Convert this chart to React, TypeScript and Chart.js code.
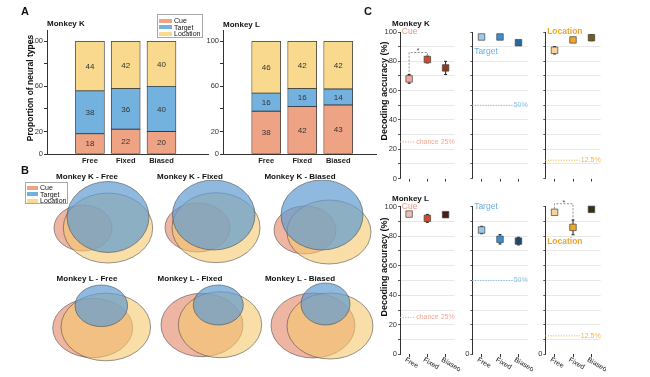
import React, { useEffect, useRef } from 'react';
import { Chart, registerables } from 'chart.js';

Chart.register(...registerables);
const FONT = "'Liberation Sans', Arial, Helvetica, sans-serif";
Chart.defaults.font.family = FONT;
Chart.defaults.color = '#222';

// ---------------- data ----------------
const conditions = ['Free', 'Fixed', 'Biased'];
const neuronTypes = ['Cue', 'Target', 'Location'];

// Panel A: proportion of neural types (%)
const propK_Cue = [18, 22, 20];
const propK_Target = [38, 36, 40];
const propK_Location = [44, 42, 40];
const propL_Cue = [38, 42, 43.4];
const propL_Target = [16, 16, 14.3];
const propL_Location = [46, 42, 42.3];
const propTicks = [0, 20, 40, 60, 80, 100];
const propTickLabels = [0, 20, 60, 100];

// Panel B: Venn ellipses [dx, dy, rx, ry] for Cue, Target, Location
const vennK_Free = [[-4, 51, 29, 23], [21, 40, 41, 35.5], [21, 51, 44.7, 35]];
const vennK_Fixed = [[7.5, 50.5, 32.5, 24.5], [23.7, 38, 41.3, 35], [26, 50.7, 44, 35]];
const vennK_Biased = [[5, 53, 31, 24], [22, 38, 41, 35], [29, 55, 42, 32]];
const vennL_Free = [[5.7, 49, 40, 29.7], [14.3, 26.8, 26.3, 20.8], [18.8, 48, 44.8, 33.8]];
const vennL_Fixed = [[12, 46, 41, 31.7], [28.3, 26, 25, 20], [30, 45.7, 41.7, 33]];
const vennL_Biased = [[13, 46.5, 42, 32.5], [25.5, 25, 24.5, 21], [30, 47, 43, 33]];

// Panel C: decoding accuracy (%) mean and error
const accK_Cue = [68.0, 81.2, 75.5];
const errK_Cue = [3, 2.3, 4.5];
const accK_Target = [96.6, 96.6, 92.7];
const errK_Target = [1, 1, 1.5];
const accK_Location = [87.5, 94.6, 96.1];
const errK_Location = [2.5, 1, 2];
const accL_Cue = [95.0, 92.1, 94.6];
const errL_Cue = [1, 2.7, 1];
const accL_Target = [84.2, 77.9, 76.7];
const errL_Target = [2.5, 3.2, 2.6];
const accL_Location = [96.2, 86.0, 98.2];
const errL_Location = [1, 5, 1];
const chanceLevels = [25, 50, 12.5];
const chanceLabels = ['chance 25%', '50%', '12.5%'];
const accTicks = [0, 10, 20, 30, 40, 50, 60, 70, 80, 90, 100];

// ---------------- styles ----------------
const barColors = ['#EFA385', '#73B2DE', '#F8D98E'];
const vennFill = ['rgba(228,135,105,0.62)', 'rgba(95,155,210,0.7)', 'rgba(245,200,110,0.6)'];
const typeTextColors = ['#E8967F', '#6AAEE0', '#EDA52E'];
const chanceColors = ['#F2A896', '#8CC2EA', '#F0B848'];
const markK = [
  ['#F0A898', '#D04A30', '#8E3A1E'],
  ['#9CCAEC', '#3A8ED0', '#25689C'],
  ['#F8D49A', '#EFA62A', '#6F5A20'],
];
const markL = [
  ['#EBC0B0', '#D04A30', '#4A1C12'],
  ['#98C8EC', '#3A8ED0', '#1E4A6E'],
  ['#F6D49C', '#EFA62A', '#3A2E12'],
];

// ---------------- plugins ----------------
const barValuePlugin = {
  id: 'barValues',
  afterDatasetsDraw(chart: any) {
    const { ctx } = chart;
    ctx.save();
    ctx.font = `8px ${FONT}`;
    ctx.fillStyle = '#333';
    ctx.textAlign = 'center';
    ctx.textBaseline = 'middle';
    chart.data.datasets.forEach((ds: any, di: number) => {
      chart.getDatasetMeta(di).data.forEach((el: any, i: number) => {
        ctx.fillText(String(Math.round(ds.data[i].y)), el.x, (el.y + el.base) / 2 + 0.5);
      });
    });
    ctx.restore();
  },
};

const ellipsePlugin = {
  id: 'ellipses',
  afterDatasetsDraw(chart: any) {
    const { ctx } = chart;
    const xs = chart.scales.x;
    const ys = chart.scales.y;
    ctx.save();
    chart.data.datasets.forEach((ds: any) => {
      ds.data.forEach((p: any) => {
        const cx = xs.getPixelForValue(p.x);
        const cy = ys.getPixelForValue(p.y);
        const rx = Math.abs(xs.getPixelForValue(p.x + p.rx) - cx);
        const ry = Math.abs(ys.getPixelForValue(p.y + p.ry) - cy);
        ctx.beginPath();
        ctx.ellipse(cx, cy, rx, ry, 0, 0, Math.PI * 2);
        ctx.fillStyle = ds.backgroundColor;
        ctx.fill();
        ctx.lineWidth = 0.7;
        ctx.strokeStyle = 'rgba(70,70,70,0.8)';
        ctx.stroke();
      });
    });
    ctx.restore();
  },
};

// ---------------- configs ----------------
function makeBarConfig(series: number[][], xMax: number, yWidth: number, padRight: number) {
  return {
    type: 'bar',
    data: {
      datasets: series.map((vals, k) => ({
        label: neuronTypes[k],
        data: conditions.map((_c, i) => ({ x: i + 1, y: vals[i] })),
        backgroundColor: barColors[k],
        borderColor: '#3a3a3a',
        borderWidth: 0.8,
        borderSkipped: false,
        barThickness: 29,
      })),
    },
    options: {
      responsive: false,
      animation: false,
      layout: { padding: { top: 30, right: padRight, left: 0, bottom: 0 } },
      plugins: { legend: { display: false }, tooltip: { enabled: false } },
      scales: {
        x: {
          type: 'linear',
          stacked: true,
          offset: false,
          min: -0.2,
          max: xMax,
          afterBuildTicks: (s: any) => {
            s.ticks = conditions.map((_c, i) => ({ value: i + 1 }));
          },
          afterFit: (s: any) => {
            s.height = 16;
          },
          ticks: {
            callback: (v: any) => conditions[Math.round(v) - 1],
            font: { size: 7.5, weight: 'bold' },
            padding: 2.5,
            color: '#222',
            autoSkip: false,
            maxRotation: 0,
          },
          grid: { offset: false, drawOnChartArea: false, drawTicks: false },
          border: { color: '#333', width: 1 },
        },
        y: {
          stacked: true,
          min: 0,
          max: 110,
          afterBuildTicks: (s: any) => {
            s.ticks = propTicks.map((v) => ({ value: v }));
          },
          afterFit: (s: any) => {
            s.width = yWidth;
          },
          ticks: {
            callback: (v: any) => (propTickLabels.includes(v) ? String(v) : ''),
            font: { size: 7.5 },
            padding: 1,
            color: '#333',
            autoSkip: false,
          },
          grid: { drawOnChartArea: false, tickLength: 3, tickColor: '#333' },
          border: { color: '#333', width: 1 },
        },
      },
    },
    plugins: [barValuePlugin],
  };
}

function makeVennConfig(sets: number[][]) {
  const order = [0, 2, 1]; // Cue, Location, Target (Target on top)
  return {
    type: 'scatter',
    data: {
      datasets: order.map((k) => {
        const [x, y, rx, ry] = sets[k];
        return { label: neuronTypes[k], data: [{ x, y, rx, ry }], pointRadius: 0, backgroundColor: vennFill[k] };
      }),
    },
    options: {
      responsive: false,
      animation: false,
      layout: { padding: 0 },
      plugins: { legend: { display: false }, tooltip: { enabled: false } },
      scales: {
        x: { type: 'linear', display: false, min: -50, max: 100 },
        y: { type: 'linear', display: false, min: 3, max: 93, reverse: true },
      },
    },
    plugins: [ellipsePlugin],
  };
}

const colYWidth = [35, 12.3, 12.3];
const colPadRight = [3, 3.7, 3.7];
const rowPadTop = [6, 12.7];
const rowXHeight = [5, 22.7];

function makeAccConfig(spec: any) {
  const { means, errs, colors, type, row, col, label, sig, labelBold } = spec;
  const decor = {
    id: 'accDecor',
    beforeDatasetsDraw(chart: any) {
      const { ctx, chartArea: ca } = chart;
      const xs = chart.scales.x;
      const ys = chart.scales.y;
      ctx.save();
      // chance line
      const cy = ys.getPixelForValue(chanceLevels[type]);
      ctx.font = `7px ${FONT}`;
      const txt = chanceLabels[type];
      const tw = ctx.measureText(txt).width;
      ctx.strokeStyle = chanceColors[type];
      ctx.lineWidth = 1;
      ctx.setLineDash([1.2, 1.4]);
      ctx.beginPath();
      ctx.moveTo(ca.left, cy);
      ctx.lineTo(ca.right - tw - 1, cy);
      ctx.stroke();
      ctx.setLineDash([]);
      ctx.fillStyle = chanceColors[type];
      ctx.textAlign = 'right';
      ctx.textBaseline = 'middle';
      ctx.fillText(txt, ca.right, cy);
      // significance bracket
      if (sig) {
        const xa = xs.getPixelForValue(sig.a);
        const xb = xs.getPixelForValue(sig.b);
        const yt = ys.getPixelForValue(sig.top);
        ctx.strokeStyle = '#777';
        ctx.lineWidth = 0.8;
        ctx.setLineDash([2, 1.5]);
        ctx.beginPath();
        ctx.moveTo(xa, ys.getPixelForValue(sig.legA));
        ctx.lineTo(xa, yt);
        ctx.lineTo(xb, yt);
        ctx.lineTo(xb, ys.getPixelForValue(sig.legB));
        ctx.stroke();
        ctx.setLineDash([]);
        ctx.fillStyle = '#444';
        ctx.textAlign = 'center';
        ctx.textBaseline = 'middle';
        ctx.font = `7px ${FONT}`;
        ctx.fillText('*', (xa + xb) / 2, yt - 1);
      }
      // error bars
      ctx.strokeStyle = '#222';
      ctx.lineWidth = 1;
      means.forEach((m: number, i: number) => {
        const x = xs.getPixelForValue(i + 1);
        const y1 = ys.getPixelForValue(m - errs[i]);
        const y2 = ys.getPixelForValue(m + errs[i]);
        ctx.beginPath();
        ctx.moveTo(x, y1);
        ctx.lineTo(x, y2);
        ctx.moveTo(x - 1.5, y1);
        ctx.lineTo(x + 1.5, y1);
        ctx.moveTo(x - 1.5, y2);
        ctx.lineTo(x + 1.5, y2);
        ctx.stroke();
      });
      ctx.restore();
    },
    afterDatasetsDraw(chart: any) {
      const { ctx, chartArea: ca } = chart;
      const xs = chart.scales.x;
      const ys = chart.scales.y;
      ctx.save();
      ctx.font = `${labelBold ? 'bold ' : ''}8.5px ${FONT}`;
      ctx.fillStyle = typeTextColors[type];
      ctx.textAlign = 'left';
      ctx.textBaseline = 'middle';
      ctx.fillText(neuronTypes[type], xs.getPixelForValue(label[0]), ys.getPixelForValue(label[1]));
      if (row === 1) {
        ctx.font = `7px ${FONT}`;
        ctx.fillStyle = '#222';
        ctx.textBaseline = 'top';
        conditions.forEach((c, i) => {
          ctx.save();
          ctx.translate(xs.getPixelForValue(i + 1) - 2, ca.bottom + 2);
          ctx.rotate(Math.PI / 6);
          ctx.fillText(c, 0, 0);
          ctx.restore();
        });
      }
      ctx.restore();
    },
  };
  const tickLabel = (v: number) => {
    if (col === 0) return v % 20 === 0 ? String(v) : '';
    if (row === 1) return v === 0 ? '0' : '';
    return '';
  };
  return {
    type: 'scatter',
    data: {
      datasets: [
        {
          label: neuronTypes[type],
          data: means.map((m: number, i: number) => ({ x: i + 1, y: m })),
          pointStyle: 'rect',
          pointRadius: 4.6,
          pointBackgroundColor: colors,
          pointBorderColor: '#444',
          pointBorderWidth: 0.7,
          clip: false,
        },
      ],
    },
    options: {
      responsive: false,
      animation: false,
      layout: { padding: { top: rowPadTop[row], right: colPadRight[col], left: 0, bottom: 0 } },
      plugins: { legend: { display: false }, tooltip: { enabled: false } },
      scales: {
        x: {
          type: 'linear',
          min: 0.5,
          max: 3.5,
          afterBuildTicks: (s: any) => {
            s.ticks = conditions.map((_c, i) => ({ value: i + 1 }));
          },
          afterFit: (s: any) => {
            s.height = rowXHeight[row];
          },
          ticks: { display: false },
          grid: { drawOnChartArea: false, tickLength: 3, tickColor: '#333' },
          border: { display: false },
        },
        y: {
          type: 'linear',
          min: 0,
          max: 100,
          afterBuildTicks: (s: any) => {
            s.ticks = accTicks.map((v) => ({ value: v }));
          },
          afterFit: (s: any) => {
            s.width = colYWidth[col];
          },
          ticks: { callback: (v: any) => tickLabel(v), font: { size: 7.5 }, padding: 1, color: '#333', autoSkip: false },
          grid: {
            color: (c: any) => (c.tick && (c.tick.value === 0 || c.tick.value === 100) ? 'rgba(0,0,0,0)' : '#e2e2e2'),
            lineWidth: 0.8,
            tickColor: '#333',
            tickLength: 2,
          },
          border: { color: '#333', width: 1 },
        },
      },
    },
    plugins: [decor],
  };
}

// ---------------- components ----------------
function ChartBox({ left, top, width, height, build }: any) {
  const ref = useRef<HTMLCanvasElement | null>(null);
  useEffect(() => {
    const chart = new Chart(ref.current as HTMLCanvasElement, build() as any);
    return () => chart.destroy();
  }, []);
  return (
    <canvas
      ref={ref}
      width={width}
      height={height}
      style={{ position: 'absolute', left, top, width, height }}
    />
  );
}

function Txt({ x, y, size, bold, color, align, rotate, children }: any) {
  const tx = align === 'center' ? '-50%' : align === 'right' ? '-100%' : '0';
  return (
    <div
      style={{
        position: 'absolute',
        left: x,
        top: y,
        fontSize: size,
        lineHeight: `${size}px`,
        fontWeight: bold ? 'bold' : 'normal',
        color: color || '#111',
        whiteSpace: 'nowrap',
        transform: `translate(${tx}, -50%)${rotate ? ` rotate(${rotate}deg)` : ''}`,
      }}
    >
      {children}
    </div>
  );
}

function RotTxt({ x, y, size, bold, children }: any) {
  return (
    <div
      style={{
        position: 'absolute',
        left: x,
        top: y,
        fontSize: size,
        lineHeight: `${size}px`,
        fontWeight: bold ? 'bold' : 'normal',
        color: '#111',
        whiteSpace: 'nowrap',
        transform: 'translate(-50%, -50%) rotate(-90deg)',
      }}
    >
      {children}
    </div>
  );
}

function Legend({ left, top, width, height, rowYs, swW, textX }: any) {
  return (
    <div
      style={{
        position: 'absolute',
        left,
        top,
        width,
        height,
        border: '1px solid #a8a8a8',
        background: '#fff',
        boxSizing: 'border-box',
      }}
    >
      {neuronTypes.map((n, k) => (
        <React.Fragment key={n}>
          <div
            style={{
              position: 'absolute',
              left: 1,
              top: rowYs[k] - 2,
              width: swW,
              height: 4,
              background: barColors[k],
            }}
          />
          <div
            style={{
              position: 'absolute',
              left: textX,
              top: rowYs[k] - 3.5,
              fontSize: 7,
              lineHeight: '7px',
              color: '#111',
              whiteSpace: 'nowrap',
            }}
          >
            {n}
          </div>
        </React.Fragment>
      ))}
    </div>
  );
}

const vennCols = [87, 190, 300];
const vennRows = [177, 279];
const vennPanels = [
  { title: 'Monkey K - Free', sets: vennK_Free, r: 0, c: 0 },
  { title: 'Monkey K - Fixed', sets: vennK_Fixed, r: 0, c: 1 },
  { title: 'Monkey K - Biased', sets: vennK_Biased, r: 0, c: 2 },
  { title: 'Monkey L - Free', sets: vennL_Free, r: 1, c: 0 },
  { title: 'Monkey L - Fixed', sets: vennL_Fixed, r: 1, c: 1 },
  { title: 'Monkey L - Biased', sets: vennL_Biased, r: 1, c: 2 },
];

const colCanvasLeft = [365, 460, 533];
const colCanvasWidth = [95, 73, 73];
const rowCanvasTop = [26, 194];
const rowCanvasHeight = [158, 183];

const accPanels = [
  { row: 0, col: 0, type: 0, means: accK_Cue, errs: errK_Cue, colors: markK[0], label: [0.6, 100], sig: { a: 1, b: 2, top: 86, legA: 68, legB: 83.5 } },
  { row: 0, col: 1, type: 1, means: accK_Target, errs: errK_Target, colors: markK[1], label: [0.6, 86.3] },
  { row: 0, col: 2, type: 2, means: accK_Location, errs: errK_Location, colors: markK[2], label: [0.6, 100], labelBold: true },
  { row: 1, col: 0, type: 0, means: accL_Cue, errs: errL_Cue, colors: markL[0], label: [0.6, 100] },
  { row: 1, col: 1, type: 1, means: accL_Target, errs: errL_Target, colors: markL[1], label: [0.6, 100] },
  { row: 1, col: 2, type: 2, means: accL_Location, errs: errL_Location, colors: markL[2], label: [0.6, 76], labelBold: true, sig: { a: 1, b: 2, top: 102, legA: 96.2, legB: 91 } },
];

export default function App() {
  return (
    <div
      style={{
        position: 'absolute',
        left: 0,
        top: 0,
        width: 650,
        height: 377,
        background: '#fff',
        overflow: 'hidden',
        fontFamily: FONT,
      }}
    >
      {/* Panel A */}
      <ChartBox left={0} top={0} width={215} height={170} build={() => makeBarConfig([propK_Cue, propK_Target, propK_Location], 4.3, 47, 7)} />
      <ChartBox left={195} top={0} width={185} height={170} build={() => makeBarConfig([propL_Cue, propL_Target, propL_Location], 4.05, 28, 4)} />

      {/* Panel B */}
      {vennPanels.map((p) => (
        <ChartBox
          key={p.title}
          left={vennCols[p.c] - 50}
          top={vennRows[p.r] + 3}
          width={150}
          height={90}
          build={() => makeVennConfig(p.sets)}
        />
      ))}

      {/* Panel C */}
      {accPanels.map((p) => (
        <ChartBox
          key={`${p.row}-${p.col}`}
          left={colCanvasLeft[p.col]}
          top={rowCanvasTop[p.row]}
          width={colCanvasWidth[p.col]}
          height={rowCanvasHeight[p.row]}
          build={() => makeAccConfig(p)}
        />
      ))}

      {/* Texts */}
      <Txt x={21} y={10.7} size={11} bold>A</Txt>
      <Txt x={21} y={170} size={11} bold>B</Txt>
      <Txt x={364} y={10.5} size={11} bold>C</Txt>

      <Txt x={47} y={24} size={8} bold>Monkey K</Txt>
      <Txt x={223} y={25} size={8} bold>Monkey L</Txt>
      <RotTxt x={30} y={87.5} size={8.5} bold>Proportion of neural types</RotTxt>

      {vennPanels.map((p) => (
        <Txt key={`t-${p.title}`} x={vennCols[p.c]} y={vennRows[p.r]} size={8} bold align="center">
          {p.title}
        </Txt>
      ))}

      <Txt x={392} y={24} size={8} bold>Monkey K</Txt>
      <Txt x={392} y={199} size={8} bold>Monkey L</Txt>
      <RotTxt x={384} y={91} size={9} bold>Decoding accuracy (%)</RotTxt>
      <RotTxt x={384} y={266.7} size={9} bold>Decoding accuracy (%)</RotTxt>

      <Legend left={157} top={14} width={46} height={23.5} rowYs={[5.5, 12, 18.5]} swW={13} textX={16} />
      <Legend left={25} top={182} width={42.5} height={21.5} rowYs={[4.5, 11, 17.5]} swW={11} textX={14} />
    </div>
  );
}
